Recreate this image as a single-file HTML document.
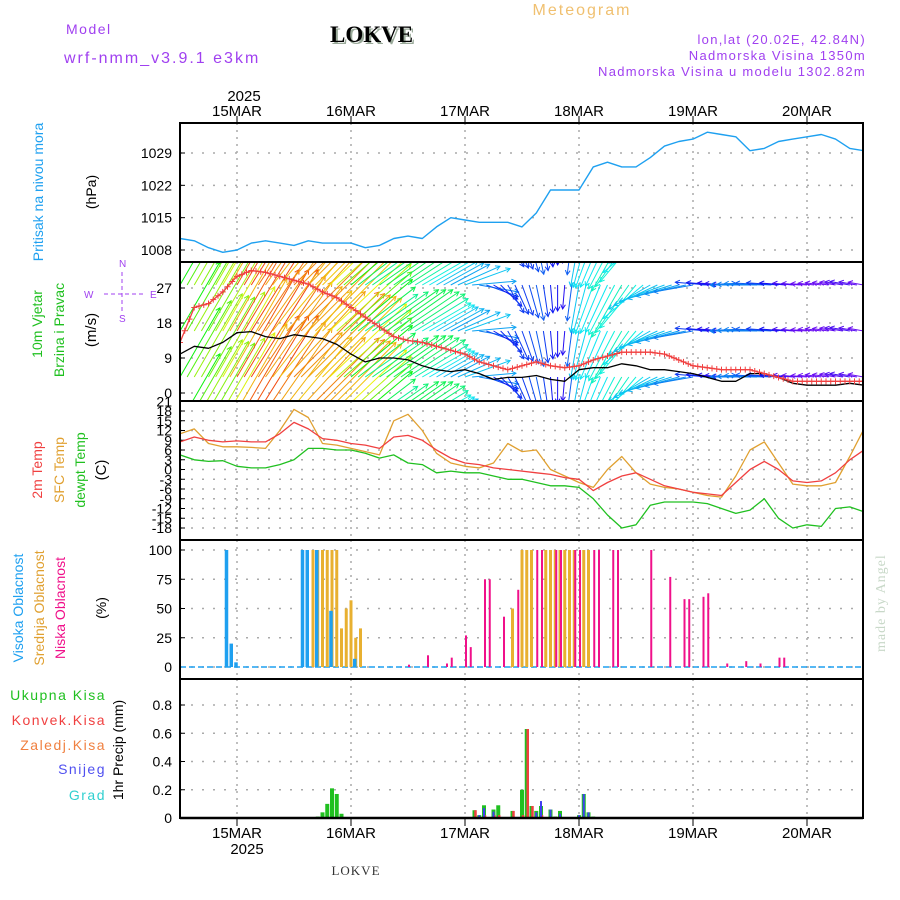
<!DOCTYPE html>
<html><head><meta charset="utf-8"><style>
html,body{margin:0;padding:0;background:#fff}
svg{display:block}
text{font-family:"Liberation Sans",sans-serif}
text.serif{font-family:"Liberation Serif",serif}
</style></head><body>
<svg id="c" width="900" height="900" viewBox="0 0 900 900" xmlns="http://www.w3.org/2000/svg">
<g>
<text x="582" y="15" font-size="16" fill="#f0c070" text-anchor="middle" letter-spacing="2">Meteogram</text>
<text x="66" y="34" font-size="14" fill="#a040f0" letter-spacing="1.5">Model</text>
<text x="64" y="63" font-size="16" fill="#a040f0" letter-spacing="2">wrf-nmm_v3.9.1 e3km</text>
<text class="serif" x="332" y="44" font-size="23" font-weight="bold" fill="#9aaa9a">LOKVE</text>
<text class="serif" x="330" y="42" font-size="23" font-weight="bold" fill="#000">LOKVE</text>
<text x="866" y="44" font-size="13" fill="#a040f0" text-anchor="end" letter-spacing="1.3">lon,lat (20.02E, 42.84N)</text>
<text x="866" y="60" font-size="13" fill="#a040f0" text-anchor="end" letter-spacing="1.3">Nadmorska Visina 1350m</text>
<text x="866" y="76" font-size="13" fill="#a040f0" text-anchor="end" letter-spacing="1.3">Nadmorska Visina u modelu 1302.82m</text>
<text x="244" y="101" font-size="15" text-anchor="middle">2025</text>
<text x="247" y="854" font-size="15" text-anchor="middle">2025</text>
<text class="serif" x="356" y="875" font-size="13" fill="#333" text-anchor="middle" letter-spacing="1">LOKVE</text>
<text class="serif" transform="translate(885,652) rotate(-90)" font-size="14" fill="#c8d8c8" letter-spacing="1">made by Angel</text>
</g>
<g>
<text transform="translate(43,192) rotate(-90)" font-size="14" fill="#1ea0f0" text-anchor="middle">Pritisak na nivou mora</text>
<text transform="translate(96,192) rotate(-90)" font-size="14" text-anchor="middle">(hPa)</text>
<text transform="translate(42,324) rotate(-90)" font-size="14" fill="#20c020" text-anchor="middle">10m Vjetar</text>
<text transform="translate(64,330) rotate(-90)" font-size="14" fill="#20c020" text-anchor="middle">Brzina i Pravac</text>
<text transform="translate(96,330) rotate(-90)" font-size="15" text-anchor="middle">(m/s)</text>
<g fill="#a040f0" font-size="10">
<text x="84" y="298">W</text><text x="150" y="298">E</text>
<text x="119" y="267">N</text><text x="119" y="322">S</text>
<line x1="104" y1="294" x2="144" y2="294" stroke="#a040f0" stroke-dasharray="4,3"/>
<line x1="122" y1="272" x2="122" y2="314" stroke="#a040f0" stroke-dasharray="4,3"/>
</g>
<text transform="translate(42,470) rotate(-90)" font-size="14" fill="#f04040" text-anchor="middle">2m Temp</text>
<text transform="translate(64,470) rotate(-90)" font-size="14" fill="#e0a030" text-anchor="middle">SFC Temp</text>
<text transform="translate(85,470) rotate(-90)" font-size="14" fill="#20c020" text-anchor="middle">dewpt Temp</text>
<text transform="translate(106,470) rotate(-90)" font-size="15" text-anchor="middle">(C)</text>
<text transform="translate(23,608) rotate(-90)" font-size="14" fill="#1ea0f0" text-anchor="middle">Visoka Oblacnost</text>
<text transform="translate(44,608) rotate(-90)" font-size="14" fill="#e0a030" text-anchor="middle">Srednja Oblacnost</text>
<text transform="translate(65,608) rotate(-90)" font-size="14" fill="#f0108a" text-anchor="middle">Niska Oblacnost</text>
<text transform="translate(106,608) rotate(-90)" font-size="14" text-anchor="middle">(%)</text>
<g font-size="14" text-anchor="end" letter-spacing="1.5">
<text x="106" y="700" fill="#20c020">Ukupna  Kisa</text>
<text x="106" y="725" fill="#f04040">Konvek.Kisa</text>
<text x="106" y="750" fill="#f08040">Zaledj.Kisa</text>
<text x="106" y="774" fill="#5050f0">Snijeg</text>
<text x="106" y="800" fill="#30d0d0">Grad</text>
</g>
<text transform="translate(123,750) rotate(-90)" font-size="14" text-anchor="middle">1hr Precip (mm)</text>
</g>
<g id="plot"></g>
</svg>
<script>
// time axis: hours since 14MAR 12Z, 3-hourly samples
const hours3 = [0,3,6,9,12,15,18,21,24,27,30,33,36,39,42,45,48,51,54,57,60,63,66,69,72,75,78,81,84,87,90,93,96,99,102,105,108,111,114,117,120,123,126,129,132,135,138,141,144];
const dayLabels = ['15MAR','16MAR','17MAR','18MAR','19MAR','20MAR'];
const dayHours = [12,36,60,84,108,132];
const pressure = [1010.5,1010,1008.5,1007.5,1008,1009.5,1010,1009.5,1009,1010,1009.5,1009.5,1009.5,1008.5,1009,1010.5,1011,1010.5,1013,1015,1014.5,1014,1014,1014,1013,1016,1021,1021,1021,1026,1027,1026,1026,1028,1030.5,1031.5,1032,1033.5,1033,1032.5,1029.5,1030,1031.5,1032,1032.5,1033,1032,1030,1029.5];
const pressureTicks = [1008,1015,1022,1029];
const windSpeed = [10,12,11.5,13,15.5,15.8,14.5,14,15,14.5,14,12.5,10,8,9,9,8.5,7,6,5.5,6,5,3.5,4,4,4.5,3.5,3,6,6.5,6.5,7.5,7,6,6,5.5,5,4,3,3,5,5,4,2.5,2,2,2,2.5,2];
const windGust = [13,22,23,26,30,31.5,31,30,29,28,26,24.5,22,19.5,17,14.5,13.5,13,12,11,10,8,7,6,7,8,7,6.5,7,8.5,9.5,10.5,10.5,10.5,10,8.5,7,6.5,6,6,6,5,4,3,3,3,3,3,3];
const windDir = [60,60,60,60,60,58,55,50,45,45,45,42,40,35,35,35,33,30,30,28,20,-10,-30,-60,-70,-78,-85,-95,-100,-110,-115,-120,-130,-150,-160,-165,-170,175,175,178,180,178,176,175,175,172,170,170,170];
const windTicks = [0,9,18,27];
const temp2m = [8.5,10,9,8.5,8.8,8.5,8.5,11,14.5,12.5,9.5,9,8,7.5,6.5,10,10.5,9,6,3.5,2,1.5,0.5,0,-0.5,-1,-1.5,-2.5,-3,-6.5,-4,-2,-1,-3,-5,-6,-7,-7.5,-8,-4,0,2.5,0,-3.5,-4,-3.5,-1,3,6];
const tempSfc = [11,12.5,8,7,7,6.8,6.5,12,18.5,16,8,7.5,6.5,5.5,4.5,15,17,12,5,2,1,0.5,2,8,5.5,6,0,-2,-4,-5.5,0,4,-1,-4.5,-5.5,-6,-7,-8,-8.5,-2,6,8.5,2,-4.5,-5,-5,-4,4,12.5];
const tempDew = [4.5,3,2.5,2.7,1,0.5,0.5,1.5,3,6.5,6.5,6,6,5,3.5,4.5,2,1.5,-1,-0.5,-1,-1,-2,-3,-3,-4,-5,-5,-5.5,-9,-14,-18,-17,-11,-10,-10,-10,-10.5,-12,-13.5,-12.5,-9,-15,-18,-17,-17.5,-12,-11.5,-13];
const tempTicks = [21,18,15,12,9,6,3,0,-3,-6,-9,-12,-15,-18];
const cloudHighHours = [10,11,12,26,27,29,32,37];
const cloudHighVals  = [100,20,4,100,100,100,48,7];
const cloudMidHours = [28,29,30,31,32,33,34,35,36,37,38,70,72,73,74,77,78,79,80,81,82,83,85,86];
const cloudMidVals  = [100,100,100,100,100,100,33,50,57,25,33,50,100,100,100,100,100,100,100,100,100,100,100,100];
const cloudLowHours = [48,52,56,57,60,61,64,65,68,71,75,76,79,80,83,84,87,88,91,92,99,103,106,107,110,111,115,119,122,126,127];
const cloudLowVals  = [2,10,3,8,27,17,75,75,43,66,100,100,100,100,100,100,100,100,100,100,100,77,58,58,60,63,3,5,3,8,8];
const cloudTicks = [0,25,50,75,100];
const precipHours = [29,30,31,32,33,34,62,63,64,66,67,70,72,73,74,75,76,78,79,80,84,85,86,87];
const precipTotal = [0.01,0.04,0.1,0.21,0.17,0.03,0.055,0.02,0.09,0.06,0.09,0.05,0.2,0.63,0.085,0.05,0.085,0.06,0.01,0.05,0.02,0.17,0.04,0.01];
const precipConv  = [0,0,0,0,0,0,0.055,0,0.02,0.02,0.02,0.05,0.02,0.63,0.085,0,0.02,0,0,0,0,0,0,0];
const precipSnow  = [0,0,0,0,0,0,0,0.02,0.07,0.045,0,0,0,0,0,0.04,0.12,0.06,0,0.03,0.02,0.17,0.04,0];
const precipTicks = [0,0.2,0.4,0.6,0.8];

const NS='http://www.w3.org/2000/svg';
const root=document.getElementById('plot');
const X0=180,X1=863,PH=4.75;
const xs=h=>X0+PH*h;
function mk(tag,attrs,parent){const e=document.createElementNS(NS,tag);for(const k in attrs)e.setAttribute(k,attrs[k]);(parent||root).appendChild(e);return e;}
function lin(d0,d1,p0,p1){return v=>p0+(v-d0)*(p1-p0)/(d1-d0);}
const panels=[
 {name:'pressure-panel',top:123,bot:262,y:lin(1008,1029,250,153),ticks:pressureTicks},
 {name:'wind-panel',top:262,bot:401,y:lin(0,27,393,288),ticks:windTicks},
 {name:'temp-panel',top:401,bot:540,y:lin(0,18,469.5,411),ticks:tempTicks},
 {name:'cloud-panel',top:540,bot:679,y:lin(0,100,667,550),ticks:cloudTicks},
 {name:'precip-panel',top:679,bot:818,y:lin(0,0.8,818,705),ticks:precipTicks}
];
panels.forEach((p,i)=>{
 const g=mk('g',{});
 
 
 const cp=mk('clipPath',{id:'clip'+i},g);mk('rect',{x:X0,y:p.top,width:X1-X0,height:p.bot-p.top},cp);
 p.g=g;p.clip='url(#clip'+i+')';
 dayHours.forEach(h=>{const l=mk('line',{x1:xs(h),x2:xs(h),y1:p.top,y2:p.bot,stroke:'#aaa','stroke-dasharray':'2,5','stroke-width':1.5},g);
  
  });
 p.ticks.forEach(t=>{const yy=p.y(t);
  if(yy>p.top+2&&yy<p.bot-2){const l=mk('line',{x1:X0,x2:X1,y1:yy,y2:yy,stroke:'#aaa','stroke-dasharray':'2,9','stroke-width':1.5},g);
   
   }
  const tx=mk('text',{x:172,y:yy+5,'font-size':14,'text-anchor':'end'},g);tx.textContent=String(t);
  
  
  mk('line',{x1:X0,x2:X0+5,y1:yy,y2:yy,stroke:'#000'},g);
 });
});
function interp(arr,h){const i=Math.min(Math.floor(h/3),arr.length-2);const f=(h-i*3)/3;return arr[i]+(arr[i+1]-arr[i])*f;}
function line(p,arr,color,name,w){const pts=hours3.map((h,i)=>xs(h).toFixed(1)+','+p.y(arr[i]).toFixed(1)).join(' ');
 const e=mk('polyline',{points:pts,fill:'none',stroke:color,'stroke-width':w||1.3,'stroke-linejoin':'round','clip-path':p.clip},p.g);
 
 return e;}
line(panels[0],pressure,'#1ea0f0','pressure-line',1.4);
const pw=panels[1];
const ag=mk('g',{'clip-path':pw.clip},pw.g);


const bases=[239,285,331,377,423];
for(let h=0;h<=144;h+=1.5){
 const s=interp(windSpeed,h),d=interp(windDir,h)*Math.PI/180;
 const L=s*8,hue=Math.max(0,Math.min(285,300-18*s));
 const col='hsl('+hue+',90%,50%)';
 bases.forEach(b=>{
  const x1=xs(h),y1=b,x2=x1+L*Math.cos(d),y2=y1-L*Math.sin(d);
  mk('line',{x1:x1,y1:y1,x2:x2,y2:y2,stroke:col,'stroke-width':1},ag);
  const ha=Math.atan2(y2-y1,x2-x1);
  mk('polyline',{points:(x2-5*Math.cos(ha-0.5))+','+(y2-5*Math.sin(ha-0.5))+' '+x2+','+y2+' '+(x2-5*Math.cos(ha+0.5))+','+(y2-5*Math.sin(ha+0.5)),fill:'none',stroke:col,'stroke-width':1},ag);
 });
}
line(pw,windSpeed,'#000','wind-speed-line',1.3);
line(pw,windGust,'#f04040','wind-gust-line',1.3);
const gg=mk('g',{'clip-path':pw.clip},pw.g);


for(let h=0;h<=144;h+=1){const x=xs(h),y=pw.y(interp(windGust,h));
 mk('path',{d:'M'+(x-3)+' '+y+'h6M'+x+' '+(y-3)+'v6',stroke:'#f04040','stroke-width':1},gg);}
const pt=panels[2];
line(pt,tempDew,'#20c020','dewpoint-line');
line(pt,tempSfc,'#e0a030','sfc-temp-line');
line(pt,temp2m,'#f04040','temp-2m-line');
const pc=panels[3];
function bars(p,hs,vals,color,w,off,name){hs.forEach((h,i)=>{const y=p.y(vals[i]),y0=p.y(0);
 const r=mk('rect',{x:xs(h)+off-w/2,y:y,width:w,height:Math.max(0,y0-y),fill:color},p.g);
 
 });}
mk('line',{x1:X0,x2:X1,y1:pc.y(0),y2:pc.y(0),stroke:'#1ea0f0','stroke-width':1.5,'stroke-dasharray':'6,3'},pc.g);
bars(pc,cloudMidHours,cloudMidVals,'#e8b030',3,0,'cloud-mid-bar');
bars(pc,cloudHighHours,cloudHighVals,'#1ea0f0',3.5,-1,'cloud-high-bar');
bars(pc,cloudLowHours,cloudLowVals,'#f0108a',2,1,'cloud-low-bar');
const pp=panels[4];
bars(pp,precipHours,precipTotal,'#20c020',4,0,'precip-total-bar');
bars(pp,precipHours,precipConv,'#f04040',2.5,1,'precip-conv-bar');
bars(pp,precipHours,precipSnow,'#4040f0',2,0,'precip-snow-bar');
mk('line',{x1:X0,x2:X1,y1:818,y2:818,stroke:'#000','stroke-width':2.5});
panels.forEach(p=>{mk('rect',{x:X0,y:p.top,width:X1-X0,height:p.bot-p.top,fill:'none',stroke:'#000','stroke-width':2},p.g);});
dayHours.forEach((h,i)=>{
 mk('line',{x1:xs(h),x2:xs(h),y1:116,y2:123,stroke:'#000'});
 mk('line',{x1:xs(h),x2:xs(h),y1:818,y2:826,stroke:'#000'});
 const t=mk('text',{x:xs(h),y:116,'font-size':15,'text-anchor':'middle'});t.textContent=dayLabels[i];
 
 
 const b=mk('text',{x:xs(h),y:838,'font-size':15,'text-anchor':'middle'});b.textContent=dayLabels[i];
 
 
});
</script>
</body></html>
